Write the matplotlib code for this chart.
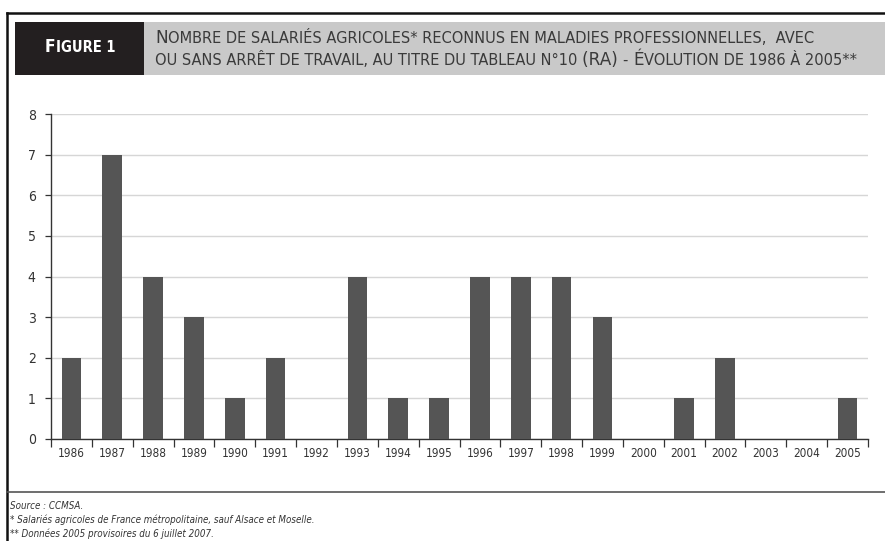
import matplotlib
matplotlib.use("Agg")
import matplotlib.pyplot as plt
from matplotlib.offsetbox import TextArea, HPacker, AnchoredOffsetbox
from matplotlib.lines import Line2D
from matplotlib.patches import Rectangle

years = ["1986", "1987", "1988", "1989", "1990", "1991", "1992", "1993", "1994", "1995",
         "1996", "1997", "1998", "1999", "2000", "2001", "2002", "2003", "2004", "2005"]
counts = [2, 7, 4, 3, 1, 2, 0, 4, 1, 1, 4, 4, 4, 3, 0, 1, 2, 0, 0, 1]
yticks = [0, 1, 2, 3, 4, 5, 6, 7, 8]

title_line1 = "Nombre de salariés agricoles* reconnus en maladies professionnelles,  avec"
title_line2 = "ou sans arrêt de travail, au titre du tableau n°10 (RA) - Évolution de 1986 à 2005**"
fig_label = "Figure 1"
footnotes = ["Source : CCMSA.",
             "* Salariés agricoles de France métropolitaine, sauf Alsace et Moselle.",
             "** Données 2005 provisoires du 6 juillet 2007."]

W, H = 885, 541
fig = plt.figure(figsize=(W / 100, H / 100), dpi=100)
fig.patch.set_facecolor("white")

def fx(px):
    return px / W

def fy(py):
    return 1 - py / H

# frame lines
fig.add_artist(Line2D([fx(7), fx(7)], [fy(13), fy(541)], color="#111111", lw=1.8))
fig.add_artist(Line2D([fx(7), fx(885)], [fy(13), fy(13)], color="#111111", lw=1.8))
fig.add_artist(Line2D([fx(7), fx(885)], [fy(492), fy(492)], color="#555555", lw=1.2))

# header boxes
fig.add_artist(Rectangle((fx(15), fy(75)), fx(144) - fx(15), fy(22) - fy(75),
                         facecolor="#231f20", edgecolor="none"))
fig.add_artist(Rectangle((fx(144), fy(75)), fx(885) - fx(144), fy(22) - fy(75),
                         facecolor="#c9c9c9", edgecolor="none"))

FAM = ["DejaVu Sans"]

def small_caps(text, big, small, color, weight="normal", stretch="normal"):
    runs = []
    cur, cur_type = "", None
    for ch in text:
        t = "b" if (ch.isupper() or ch in "()") else "s"
        if ch == " ":
            t = cur_type if cur_type else "s"
        if cur_type is None or t == cur_type:
            cur += ch
            cur_type = t
        else:
            runs.append((cur, cur_type))
            cur, cur_type = ch, t
    if cur:
        runs.append((cur, cur_type))
    boxes = []
    for s, t in runs:
        boxes.append(TextArea(s.upper(), textprops=dict(
            fontsize=big if t == "b" else small, color=color, family=FAM,
            fontweight=weight, fontstretch=stretch)))
    return HPacker(children=boxes, align="baseline", pad=0, sep=0)

def place(box, x, y, loc="lower left"):
    ab = AnchoredOffsetbox(loc=loc, child=box, pad=0, borderpad=0, frameon=False,
                           bbox_to_anchor=(fx(x), fy(y)), bbox_transform=fig.transFigure)
    fig.add_artist(ab)

place(small_caps(fig_label, 12.5, 10.5, "white", weight="bold", stretch="condensed"), 45, 56)
place(small_caps(title_line1, 12.2, 10.5, "#3a3a3a"), 155, 47)
place(small_caps(title_line2, 12.2, 10.5, "#3a3a3a"), 155, 69)

# axes
ax = fig.add_axes([fx(51), fy(439), fx(868) - fx(51), fy(114) - fy(439)])
x = list(range(len(years)))
ax.bar(x, counts, width=0.48, color="#555555", zorder=3)
ax.set_xlim(-0.5, len(years) - 0.5)
ax.set_ylim(0, 8)
ax.set_yticks(yticks)
ax.set_yticklabels([str(v) for v in yticks], fontsize=10, color="#333333", family=FAM,
                   fontstretch="condensed")
ax.set_xticks(x)
ax.set_xticklabels(years, fontsize=8.5, color="#333333", family=FAM, fontstretch="condensed")
ax.tick_params(axis="x", length=0, pad=6)
ax.set_xticks([i - 0.5 for i in range(len(years) + 1)], minor=True)
ax.tick_params(axis="x", which="minor", length=6, width=0.9, color="#333333", direction="out")
ax.tick_params(axis="y", length=4, width=0.9, color="#333333", pad=7)
ax.yaxis.grid(True, color="#d6d6d6", lw=1.0, zorder=0)
ax.set_axisbelow(True)
for s in ["top", "right"]:
    ax.spines[s].set_visible(False)
ax.spines["left"].set_color("#333333")
ax.spines["bottom"].set_color("#333333")
ax.spines["left"].set_linewidth(1.0)
ax.spines["bottom"].set_linewidth(1.0)

# footnotes
for i, line in enumerate(footnotes):
    fig.text(fx(10), fy(506 + i * 14), line, fontsize=7.0, style="italic",
             color="#333333", family=FAM, fontstretch="condensed", va="center", ha="left")

fig.savefig("out.png", dpi=100)
